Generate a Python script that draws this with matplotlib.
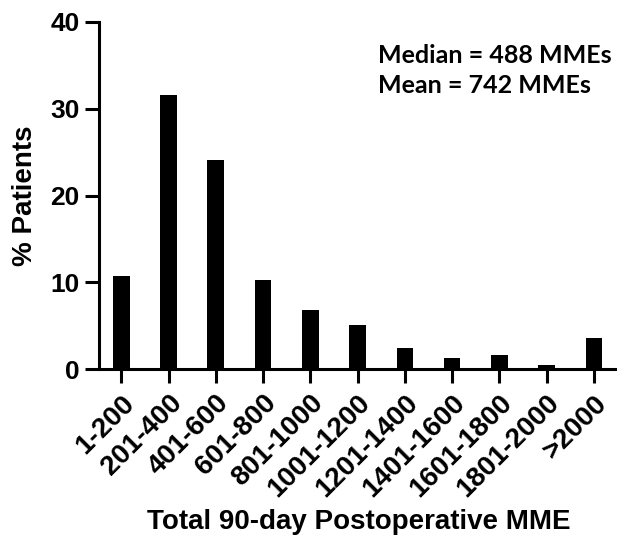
import matplotlib
matplotlib.use("Agg")
import matplotlib.pyplot as plt

categories = ["1-200", "201-400", "401-600", "601-800", "801-1000", "1001-1200",
              "1201-1400", "1401-1600", "1601-1800", "1801-2000", ">2000"]
values = [10.7, 31.6, 24.1, 10.3, 6.8, 5.1, 2.4, 1.35, 1.6, 0.55, 3.65]
yticks = [0, 10, 20, 30, 40]
stats_lines = ["Median = 488 MMEs", "Mean = 742 MMEs"]

W, H = 617, 536
plt.rcParams['font.family'] = ['Liberation Sans', 'DejaVu Sans']
fig = plt.figure(figsize=(W / 100, H / 100), dpi=100)
ax = fig.add_axes([0.1605, 0.311, 0.8395, 0.648])
x = list(range(len(categories)))
ax.bar(x, values, width=0.35, color='black')
ax.set_xlim(-0.47, 10.49)
ax.set_ylim(0, 40)
ax.set_yticks(yticks)
ax.set_yticklabels([str(t) for t in yticks], fontsize=19, fontweight='bold')
ax.set_xticks(x)
ax.set_xticklabels(categories, rotation=45, ha='right', rotation_mode='anchor',
                   fontsize=20, fontweight='bold')
for s in ['top', 'right']:
    ax.spines[s].set_visible(False)
for s in ['left', 'bottom']:
    ax.spines[s].set_linewidth(2.2)
ax.tick_params(axis='both', width=2.2, length=10, direction='out')
ax.tick_params(axis='x', pad=5)
ax.tick_params(axis='y', pad=4)
ax.set_ylabel('% Patients', fontsize=20, fontweight='bold')
ax.yaxis.set_label_coords(-0.118, 0.5)
fig.text(358.5 / W, 1 - 529 / H, 'Total 90-day Postoperative MME', fontsize=20,
         fontweight='bold', ha='center', va='baseline')
for i, line in enumerate(stats_lines):
    fig.text(378 / W, 1 - (63 + 30 * i) / H, line, fontsize=18, fontweight='bold',
             family=['Lato', 'DejaVu Sans'], ha='left', va='baseline')
fig.savefig('out.png', dpi=100)
